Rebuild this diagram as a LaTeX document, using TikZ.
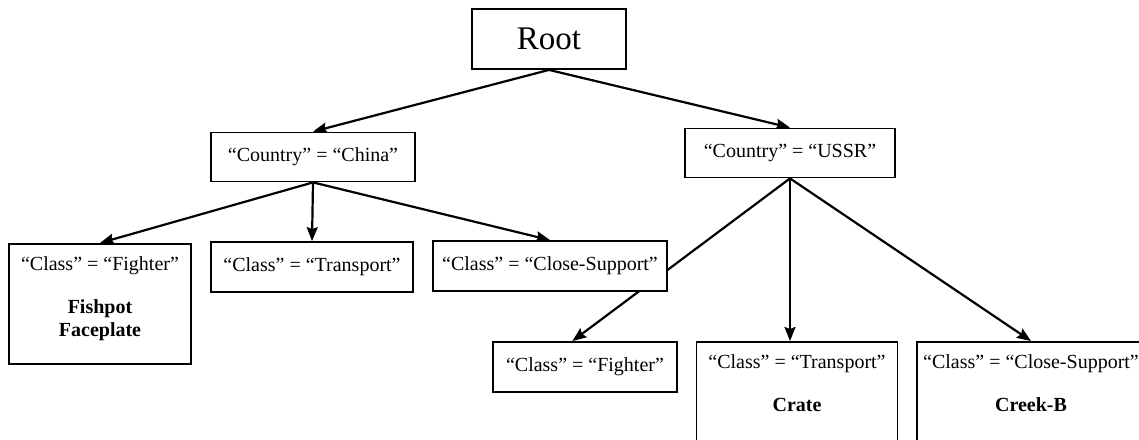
\documentclass[tikz,border=0pt]{standalone}
\usepackage{fontspec}
\setmainfont{Liberation Serif}
\usepackage{tikz}
\usetikzlibrary{arrows.meta,backgrounds}
\newcommand{\leafbox}[3]{\parbox[c][#2][t]{#1}{\centering\rule{0pt}{27pt}#3}}

\begin{document}
\begin{tikzpicture}[x=1pt, y=-1pt,
  box/.style={draw, fill=white, line width=1.8pt, font=\fontsize{20}{23}\selectfont,
              minimum height=50pt, inner sep=0pt},
  tall/.style={box, anchor=north},
  arr/.style={-{Stealth[length=14pt, width=11pt, inset=2pt]}, line width=2.2pt}]
  \useasboundingbox (0,0) rectangle (1139,439);
  \clip (0,0) rectangle (1139,439);
  \node[box, minimum width=154pt, minimum height=60pt, font=\fontsize{33}{36}\selectfont] (root) at (549,39) {Root};
  \node[box, minimum width=204pt, minimum height=49pt] (china) at (313,157) {“Country” = “China”};
  \node[box, minimum width=210pt, minimum height=49pt] (ussr) at (790,153) {“Country” = “USSR”};
  % China branch
  \node[tall] (cfight) at (100,243)
       {\leafbox{182pt}{120pt}{“Class” = “Fighter”\\[20pt]\textbf{Fishpot}\\\textbf{Faceplate}}};
  \node[box, minimum width=202pt] (ctrans) at (312,267) {“Class” = “Transport”};
  \node[box, minimum width=234pt] (cclose) at (550,266) {“Class” = “Close-Support”};
  % USSR branch
  \node[box, minimum width=184pt] (ufight) at (585,367) {“Class” = “Fighter”};
  \node[tall] (utrans) at (797,341)
       {\leafbox{201pt}{130pt}{“Class” = “Transport”\\[20pt]\textbf{Crate}}};
  \node[tall] (uclose) at (1031,341)
       {\leafbox{228pt}{130pt}{“Class” = “Close-Support”\\[20pt]\textbf{Creek-B}}};
  \begin{scope}[on background layer]
    \draw[arr] (root.south) -- (china.north);
    \draw[arr] (root.south) -- (ussr.north);
    \foreach \t in {cfight,ctrans,cclose} \draw[arr] (china.south) -- (\t.north);
    \draw[arr] (ussr.south) -- (ufight.116);
    \draw[arr] (ussr.south) -- (ussr.south |- utrans.north);
    \draw[arr] (ussr.south) -- (uclose.north);
  \end{scope}
\end{tikzpicture}
\end{document}
